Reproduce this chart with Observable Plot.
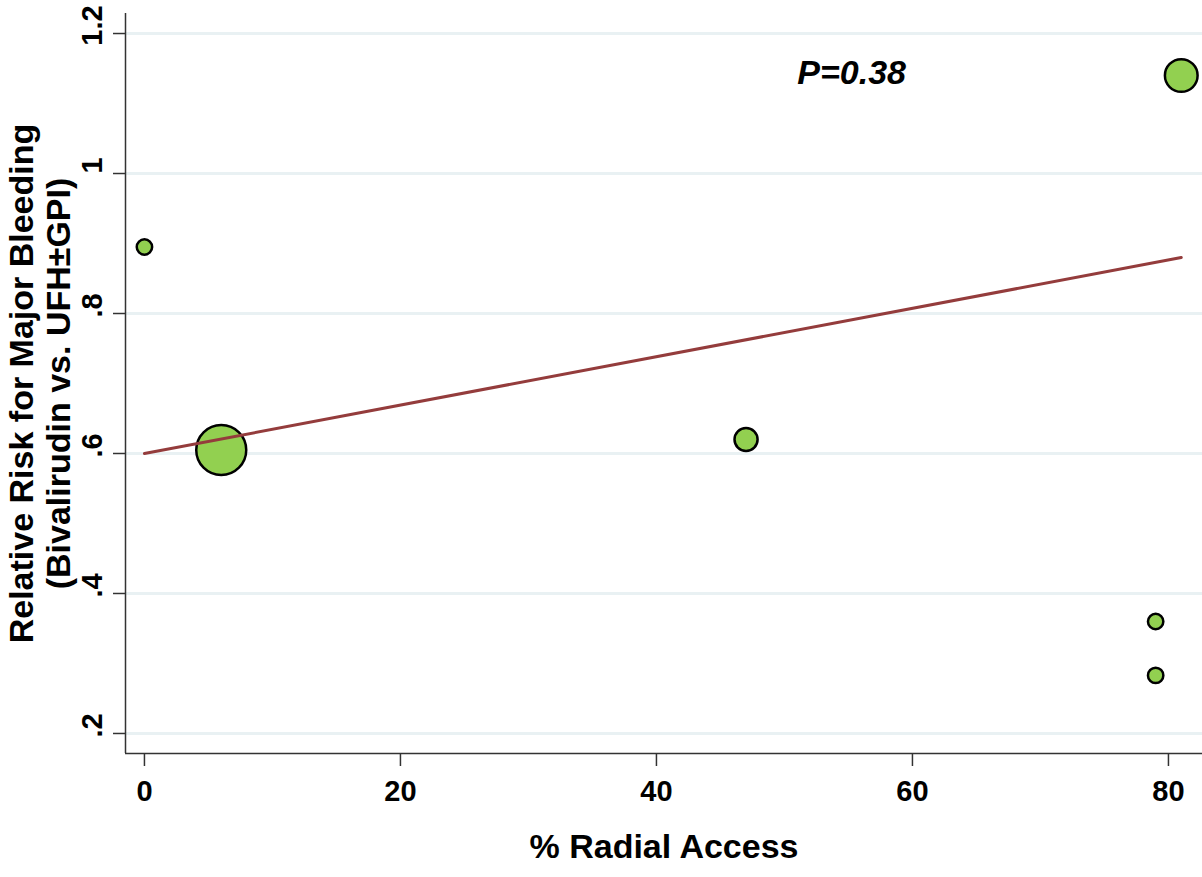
<!DOCTYPE html>
<html><head><meta charset="utf-8">
<script src="https://cdn.jsdelivr.net/npm/d3@7"></script>
<script src="https://cdn.jsdelivr.net/npm/@observablehq/plot@0.6"></script>
<style>html,body{margin:0;padding:0;background:#fff;overflow:hidden}</style>
</head><body><div id="chart"></div>
<script>
// Data
const radialAccess = [0, 6, 47, 81, 79, 79];
const relativeRisk = [0.895, 0.605, 0.62, 1.14, 0.36, 0.283];
const studyWeight = [64, 676, 144, 289, 64, 64];
const fitX = [0, 81];
const fitY = [0.60, 0.88];
const xTicks = [0, 20, 40, 60, 80];
const yTicks = [0.2, 0.4, 0.6, 0.8, 1, 1.2];
const yTickLabels = [".2", ".4", ".6", ".8", "1", "1.2"];
const annotation = {x: 51, y: 1.143, text: "P=0.38"};
const xTitle = "% Radial Access";
const yTitle = "Relative Risk for Major Bleeding\n(Bivalirudin vs. UFH±GPI)";

const studies = radialAccess.map((x, i) => ({x, y: relativeRisk[i], w: studyWeight[i]}));
const fit = fitX.map((x, i) => ({x, y: fitY[i]}));
const yLabels = yTicks.map((y, i) => ({y, label: yTickLabels[i]}));
const xDomain = [-1.48, 82.66];
const yDomain = [0.1714, 1.2286];
const font = "'Liberation Sans', Arial, Helvetica, sans-serif";

const chart = Plot.plot({
  width: 1202,
  height: 877,
  marginLeft: 125,
  marginRight: 0,
  marginTop: 13,
  marginBottom: 124,
  style: {fontFamily: font, fontSize: "29px", fontWeight: "bold", color: "#000", background: "#fff"},
  x: {domain: xDomain},
  y: {domain: yDomain},
  r: {type: "sqrt", domain: [0, d3.max(studyWeight)], range: [0, 25]},
  marks: [
    Plot.gridY(yTicks, {stroke: "#e9f1f3", strokeOpacity: 1, strokeWidth: 3}),
    Plot.ruleX([xDomain[0]], {stroke: "#333", strokeWidth: 1.5}),
    Plot.ruleY([yDomain[0]], {stroke: "#333", strokeWidth: 1.5}),
    Plot.axisX(xTicks, {tickSize: 13, tickPadding: 14, stroke: "#333", strokeWidth: 1.5, label: null, lineAnchor: "top"}),
    Plot.axisY(yTicks, {tickSize: 12, stroke: "#333", strokeWidth: 1.5, label: null, tickFormat: () => ""}),
    Plot.text(yLabels, {y: "y", text: "label", frameAnchor: "left", rotate: -90, textAnchor: "middle", lineAnchor: "middle", dx: -33, dy: -8, fontSize: 29, fontWeight: "bold"}),
    Plot.dot(studies, {x: "x", y: "y", r: "w", fill: "#92d050", stroke: "#000", strokeWidth: 2.5}),
    Plot.line(fit, {x: "x", y: "y", stroke: "#943c3c", strokeWidth: 3}),
    Plot.text([annotation], {x: "x", y: "y", text: "text", textAnchor: "start", fontSize: 34, fontStyle: "italic", fontWeight: "bold"}),
    Plot.text([xTitle], {frameAnchor: "bottom", dy: 104, fontSize: 34, fontWeight: "bold"}),
    Plot.text([yTitle], {frameAnchor: "left", rotate: -90, textAnchor: "middle", dx: -86, fontSize: 34, fontWeight: "bold", lineHeight: 1.1})
  ]
});
document.getElementById("chart").append(chart);
</script>
</body></html>
